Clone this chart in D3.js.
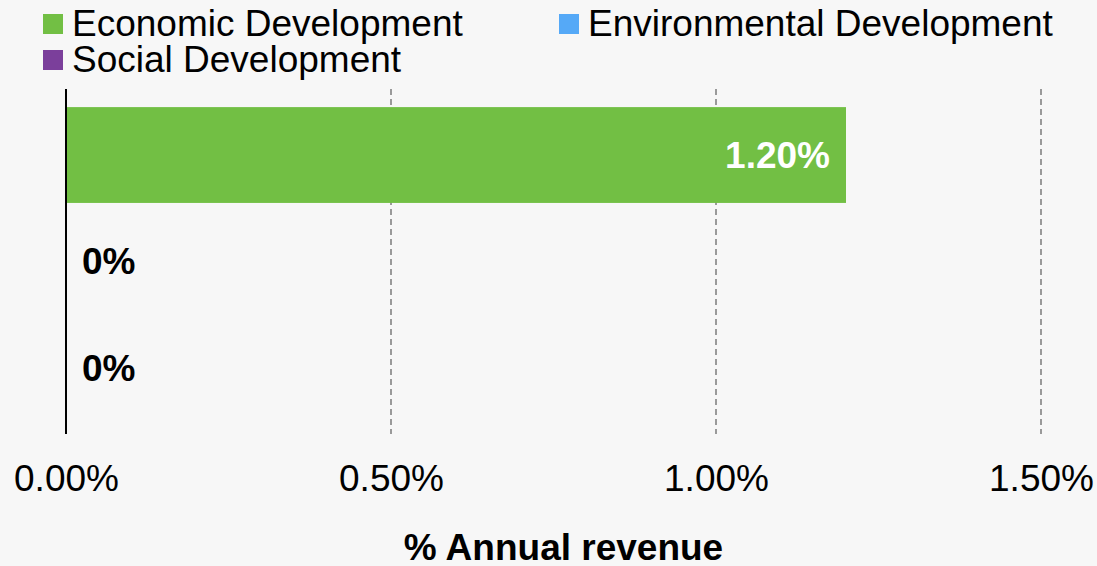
<!DOCTYPE html>
<html>
<head>
<meta charset="utf-8">
<script src="https://cdn.jsdelivr.net/npm/d3@7"></script>
<style>
  html, body { margin: 0; padding: 0; background: #f7f7f7; }
  svg { display: block; font-family: "Liberation Sans", Arial, sans-serif; }
</style>
</head>
<body>
<script>
// data
var categories = ["Economic Development", "Environmental Development", "Social Development"];
var values = [1.20, 0, 0];
var colors = ["#72bf44", "#55a9f7", "#7b3f9b"];
var tickValues = [0, 0.5, 1.0, 1.5];
var axisTitle = "% Annual revenue";

var w = 1097;
var h = 566;
var fontSize = 37;

var svg = d3.select("body")
            .append("svg")
            .attr("width", w)
            .attr("height", h);

svg.append("rect")
    .attr("width", w)
    .attr("height", h)
    .attr("fill", "#f7f7f7");

var x = d3.scaleLinear().domain([0, 1.5]).range([66, 1041]);
var y = d3.scaleBand()
          .domain(categories)
          .range([89, 434])
          .paddingInner(0.1)
          .paddingOuter(0.17);

// grid lines
svg.append("g")
    .selectAll("line")
    .data(tickValues.filter(function(d) { return d > 0; }))
    .enter()
    .append("line")
    .attr("x1", function(d) { return x(d); })
    .attr("x2", function(d) { return x(d); })
    .attr("y1", 89)
    .attr("y2", 434)
    .attr("stroke", "#9a9a9a")
    .attr("stroke-width", 2)
    .attr("stroke-dasharray", "6,4");

// bars
svg.append("g")
    .selectAll("rect")
    .data(values)
    .enter()
    .append("rect")
    .attr("x", x(0))
    .attr("y", function(d, i) { return y(categories[i]); })
    .attr("width", function(d) { return x(d) - x(0); })
    .attr("height", y.bandwidth())
    .attr("fill", function(d, i) { return colors[i]; });

// value labels
svg.append("g")
    .selectAll("text")
    .data(values)
    .enter()
    .append("text")
    .attr("x", function(d) { return d > 0 ? x(d) - 16 : x(0) + 16; })
    .attr("y", function(d, i) { return y(categories[i]) + y.bandwidth() / 2; })
    .attr("dy", "0.35em")
    .attr("text-anchor", function(d) { return d > 0 ? "end" : "start"; })
    .attr("font-size", fontSize)
    .attr("font-weight", "bold")
    .attr("fill", function(d) { return d > 0 ? "#ffffff" : "#000000"; })
    .text(function(d) { return d > 0 ? d3.format(".2f")(d) + "%" : "0%"; });

// y axis line
svg.append("line")
    .attr("x1", x(0))
    .attr("x2", x(0))
    .attr("y1", 89)
    .attr("y2", 434)
    .attr("stroke", "#000")
    .attr("stroke-width", 2);

// x axis
var xAxis = d3.axisBottom(x)
              .tickValues(tickValues)
              .tickSize(0)
              .tickPadding(0)
              .tickFormat(function(d) { return d3.format(".2f")(d) + "%"; });

var gx = svg.append("g")
    .attr("transform", "translate(0,491)")
    .call(xAxis);
gx.select(".domain").remove();
gx.selectAll("text")
    .attr("dy", null)
    .attr("y", 0)
    .attr("font-size", fontSize)
    .attr("font-family", "Liberation Sans, Arial, sans-serif")
    .attr("fill", "#000");

svg.append("text")
    .attr("x", (x(0) + x(1.5)) / 2 + 10)
    .attr("y", 560)
    .attr("text-anchor", "middle")
    .attr("font-size", fontSize)
    .attr("font-weight", "bold")
    .text(axisTitle);

// legend
var legendPos = [[43, 14], [559, 14], [43, 50]];
var legend = svg.append("g")
    .selectAll("g")
    .data(categories)
    .enter()
    .append("g")
    .attr("transform", function(d, i) { return "translate(" + legendPos[i][0] + "," + legendPos[i][1] + ")"; });

legend.append("rect")
    .attr("width", 20)
    .attr("height", 20)
    .attr("fill", function(d, i) { return colors[i]; });

legend.append("text")
    .attr("x", 29)
    .attr("y", 22)
    .attr("font-size", fontSize)
    .attr("fill", "#000")
    .text(function(d) { return d; });
</script>
</body>
</html>
